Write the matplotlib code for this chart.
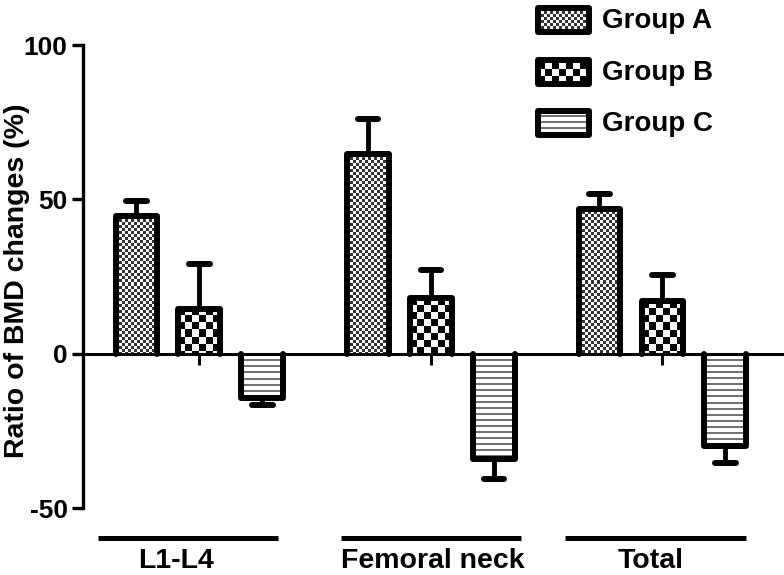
import matplotlib
matplotlib.use("Agg")
import matplotlib.pyplot as plt
import numpy as np
from matplotlib.patches import Rectangle

plt.rcParams["font.family"] = ["Liberation Sans", "DejaVu Sans"]
plt.rcParams["font.weight"] = "bold"
plt.rcParams["axes.unicode_minus"] = False

SITES = ["L1-L4", "Femoral neck", "Total"]
GROUPS = ["Group A", "Group B", "Group C"]
GROUP_A = [44.5, 64.7, 47.0]
GROUP_A_ERR = [5.0, 11.3, 4.8]
GROUP_B = [14.6, 18.0, 17.0]
GROUP_B_ERR = [14.6, 9.0, 8.5]
GROUP_C = [-14.3, -34.2, -29.9]
GROUP_C_ERR = [2.2, 6.5, 5.5]

W, H = 784, 575
PATTERNS = ["fine", "coarse", "stripes"]
OFFSETS = [-0.272, 0.0, 0.272]
BAR_W = 0.181
EDGE_LW = 4.3


def pattern_rgb(kind, ny, nx):
    r = np.arange(ny)[:, None]
    c = np.arange(nx)[None, :]
    if kind == "fine":
        mask = ((r // 3 + c // 3) % 2) == 0
        dark, light = 0.2, 1.0
    elif kind == "coarse":
        mask = ((r // 7 + c // 7) % 2) == 0
        dark, light = 0.0, 1.0
    else:
        mask = np.broadcast_to((r % 6) < 2, (ny, nx))
        dark, light = 0.45, 1.0
    img = np.where(mask, dark, light).astype(float)
    return np.dstack([img, img, img])


def fill_rect(ax, x0, y0, x1, y1, kind, zorder=2):
    rect = Rectangle((x0, y0), x1 - x0, y1 - y0, facecolor="none",
                     edgecolor="none", zorder=zorder)
    ax.add_patch(rect)
    p0 = ax.transData.transform((x0, y0))
    p1 = ax.transData.transform((x1, y1))
    nx = max(1, int(round(abs(p1[0] - p0[0]))))
    ny = max(1, int(round(abs(p1[1] - p0[1]))))
    im = ax.imshow(pattern_rgb(kind, ny, nx), extent=(x0, x1, min(y0, y1), max(y0, y1)),
                   interpolation="nearest", aspect="auto", zorder=zorder)
    im.set_clip_path(rect)


fig = plt.figure(figsize=(W / 100, H / 100), dpi=100)
ax = fig.add_axes([83 / W, 1 - 508 / H, 1 - 83 / W, (508 - 45) / H])
XLIM = (-0.503, 2.525)
YLIM = (-50, 100)
ax.set_xlim(*XLIM)
ax.set_ylim(*YLIM)

x = np.arange(len(SITES))
series = [(GROUP_A, GROUP_A_ERR), (GROUP_B, GROUP_B_ERR), (GROUP_C, GROUP_C_ERR)]
cap = 0.045

for (vals, errs), off, kind in zip(series, OFFSETS, PATTERNS):
    for xi, v, e in zip(x + off, vals, errs):
        x0, x1 = xi - BAR_W / 2, xi + BAR_W / 2
        fill_rect(ax, x0, 0, x1, v, kind)
        # three-sided outline, open at the baseline
        ax.plot([x0, x0, x1, x1], [0, v, v, 0], color="black", lw=EDGE_LW,
                solid_joinstyle="round", solid_capstyle="round", zorder=4)
        tip = v + e if v >= 0 else v - e
        ax.plot([xi, xi], [v, tip], color="black", lw=3.5, zorder=3)
        ax.plot([xi - cap, xi + cap], [tip, tip], color="black", lw=4.3,
                solid_capstyle="round", zorder=3)

ax.set_xlim(*XLIM)
ax.set_ylim(*YLIM)

for s in ["top", "right"]:
    ax.spines[s].set_visible(False)
ax.spines["bottom"].set_position(("data", 0))
ax.spines["bottom"].set_linewidth(2.2)
ax.spines["bottom"].set_zorder(5)
ax.spines["left"].set_linewidth(2.4)

ax.set_xticks(x)
ax.set_xticklabels([])
ax.tick_params(axis="x", direction="out", length=8, width=2.2)
ax.set_yticks([-50, 0, 50, 100])
ax.tick_params(axis="y", direction="out", length=8, width=2.4, labelsize=19, pad=3)
for t in ax.get_yticklabels():
    t.set_fontweight("bold")

ax.set_ylabel("Ratio of BMD changes (%)", fontsize=20.5, fontweight="bold")
ax.yaxis.set_label_coords(-0.076, 0.49)

# category bars and labels under the plot
LINE_LO = [-0.44, -0.39, -0.42]
LINE_HI = [0.34, 0.39, 0.36]
LABEL_X = [-0.10, 0.01, -0.05]
xt = ax.get_xaxis_transform()
for xi, lo, hi, lx, name in zip(x, LINE_LO, LINE_HI, LABEL_X, SITES):
    ax.plot([xi + lo, xi + hi], [-0.065, -0.065], transform=xt, clip_on=False,
            color="black", lw=3.6, solid_capstyle="butt")
    ax.text(xi + lx, -0.086, name, transform=xt, ha="center", va="top",
            fontsize=20.5, fontweight="bold")

# legend drawn in pixel space
lax = fig.add_axes([0, 0, 1, 1], zorder=10)
lax.set_xlim(0, W)
lax.set_ylim(H, 0)
lax.axis("off")
for i, (name, kind) in enumerate(zip(GROUPS, PATTERNS)):
    top = 8 + i * 51.5
    fill_rect(lax, 538, top, 589, top + 24, kind)
    lax.add_patch(Rectangle((538, top), 51, 24, facecolor="none", edgecolor="black",
                            lw=4.3, joinstyle="round", zorder=4))
    lax.text(602, top + 20, name, ha="left", va="baseline", fontsize=20,
             fontweight="bold")
lax.set_xlim(0, W)
lax.set_ylim(H, 0)

fig.savefig("out.png", dpi=100)
